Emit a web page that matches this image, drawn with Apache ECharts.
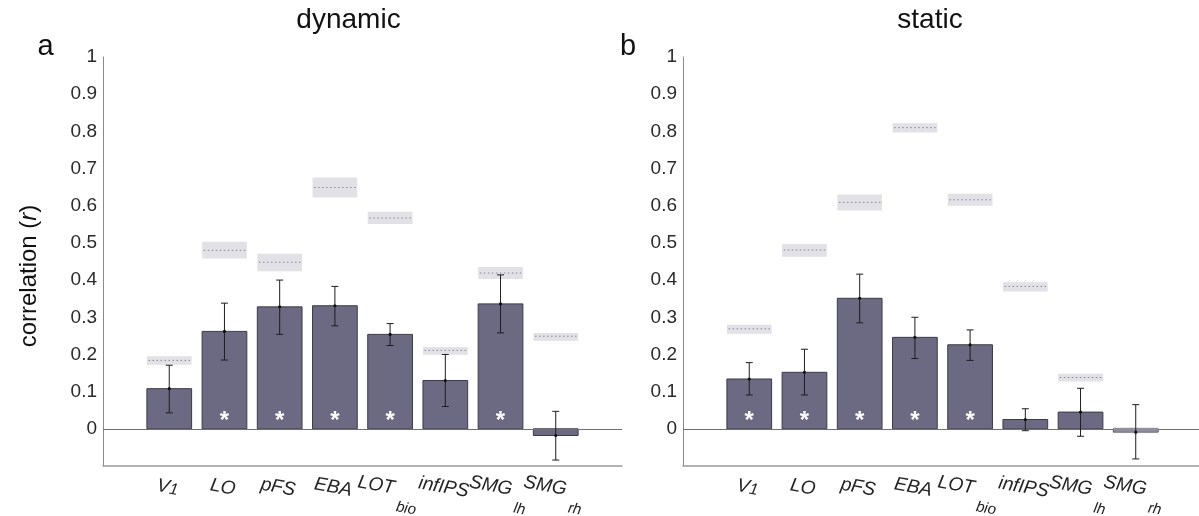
<!DOCTYPE html>
<html>
<head>
<meta charset="utf-8">
<script src="https://cdn.jsdelivr.net/npm/echarts@6/dist/echarts.min.js"></script>
<style>
html,body{margin:0;padding:0;background:#fff;}
#chart{width:1199px;height:516px;}
</style>
</head>
<body>
<div id="chart"></div>
<script>
// ---- data ----
const catMain = ['V', 'LO', 'pFS', 'EBA', 'LOT', 'infIPS', 'SMG', 'SMG'];
const catSub  = ['1', '', '', '', 'bio', '', 'lh', 'rh'];
const xPos = [1, 2, 3, 4, 5, 6, 7, 8];
const xEnds = [0, 9]; // unlabeled end positions (keeps end labels from being auto-hidden)
const yTickValues = [0, 0.1, 0.2, 0.3, 0.4, 0.5, 0.6, 0.7, 0.8, 0.9, 1];
const yTickLabels = ['0', '0.1', '0.2', '0.3', '0.4', '0.5', '0.6', '0.7', '0.8', '0.9', '1'];
const panelTitles = ['dynamic', 'static'];
const panelLetters = ['a', 'b'];

const dynMean   = [0.108, 0.262, 0.328, 0.331, 0.254, 0.130, 0.336, -0.018];
const dynErrLo  = [0.043, 0.185, 0.254, 0.277, 0.224, 0.060, 0.258, -0.084];
const dynErrHi  = [0.171, 0.338, 0.400, 0.383, 0.283, 0.200, 0.414, 0.047];
const dynCeil   = [0.184, 0.480, 0.448, 0.649, 0.567, 0.211, 0.419, 0.249];
const dynCeilLo = [0.172, 0.458, 0.424, 0.622, 0.551, 0.199, 0.403, 0.237];
const dynCeilHi = [0.195, 0.503, 0.471, 0.676, 0.584, 0.220, 0.435, 0.258];
const dynSig    = [0, 1, 1, 1, 1, 0, 1, 0];

const staMean   = [0.134, 0.152, 0.351, 0.246, 0.226, 0.025, 0.045, -0.009];
const staErrLo  = [0.091, 0.091, 0.285, 0.189, 0.184, -0.005, -0.020, -0.081];
const staErrHi  = [0.178, 0.214, 0.416, 0.300, 0.266, 0.054, 0.109, 0.065];
const staCeil   = [0.269, 0.481, 0.609, 0.810, 0.616, 0.383, 0.138, -0.004];
const staCeilLo = [0.256, 0.463, 0.587, 0.797, 0.600, 0.369, 0.127, -0.012];
const staCeilHi = [0.280, 0.497, 0.630, 0.822, 0.632, 0.394, 0.148, 0.004];
const staSig    = [1, 1, 1, 1, 1, 0, 0, 0];

const starLevel = 0.034;

// ---- styling ----
const FONT = "'Liberation Sans', Arial, Helvetica, sans-serif";
const BAR_FILL = '#6c6982';
const BAR_EDGE = '#3c3a4a';
const BAR_W = 0.81;

const panels = [
  {mean: dynMean, lo: dynErrLo, hi: dynErrHi, ceil: dynCeil, cLo: dynCeilLo, cHi: dynCeilHi, sig: dynSig},
  {mean: staMean, lo: staErrLo, hi: staErrHi, ceil: staCeil, cLo: staCeilLo, cHi: staCeilHi, sig: staSig}
];

function xLabel(v) {
  const i = xPos.indexOf(Math.round(v));
  if (i < 0) return '';
  let s = '{m|' + catMain[i] + '}';
  if (catSub[i]) {
    s += (catSub[i] === '1') ? '{n|' + catSub[i] + '}' : '{s|' + catSub[i] + '}';
  }
  return s;
}

const series = [];
panels.forEach((p, gi) => {
  // bars
  series.push({
    type: 'custom', xAxisIndex: gi, yAxisIndex: gi, z: 2,
    data: xPos.map((x, i) => [x, p.mean[i]]),
    renderItem: (params, api) => {
      const x = api.value(0), y = api.value(1);
      const a = api.coord([x - BAR_W / 2, 0]);
      const b = api.coord([x + BAR_W / 2, y]);
      return {
        type: 'rect',
        shape: {x: a[0], y: Math.min(a[1], b[1]), width: b[0] - a[0], height: Math.abs(a[1] - b[1])},
        style: {fill: BAR_FILL, stroke: BAR_EDGE, lineWidth: 1}
      };
    },
    markLine: {
      silent: true, symbol: 'none', label: {show: false},
      lineStyle: {color: '#6f6f6f', width: 1, type: 'solid'},
      data: [{yAxis: 0}], z: 3
    }
  });
  // noise ceilings
  series.push({
    type: 'custom', xAxisIndex: gi, yAxisIndex: gi, z: 4,
    data: xPos.map((x, i) => [x, p.ceil[i], p.cLo[i], p.cHi[i]]),
    renderItem: (params, api) => {
      const x = api.value(0);
      const a = api.coord([x - BAR_W / 2, api.value(3)]);
      const b = api.coord([x + BAR_W / 2, api.value(2)]);
      const c1 = api.coord([x - BAR_W / 2 + 0.03, api.value(1)]);
      const c2 = api.coord([x + BAR_W / 2 - 0.03, api.value(1)]);
      return {
        type: 'group',
        children: [
          {type: 'rect', shape: {x: a[0], y: a[1], width: b[0] - a[0], height: b[1] - a[1]},
           style: {fill: 'rgba(188,188,200,0.45)'}},
          {type: 'line', shape: {x1: c1[0], y1: c1[1], x2: c2[0], y2: c2[1]},
           style: {stroke: '#8585a3', lineWidth: 1, lineDash: [1.5, 2.5]}}
        ]
      };
    }
  });
  // error bars
  series.push({
    type: 'custom', xAxisIndex: gi, yAxisIndex: gi, z: 5,
    data: xPos.map((x, i) => [x, p.mean[i], p.lo[i], p.hi[i]]),
    renderItem: (params, api) => {
      const x = api.value(0);
      const m = api.coord([x, api.value(1)]);
      const l = api.coord([x, api.value(2)]);
      const h = api.coord([x, api.value(3)]);
      const cw = 3.5;
      const st = {stroke: '#1e1e1e', lineWidth: 1};
      return {
        type: 'group',
        children: [
          {type: 'line', shape: {x1: m[0], y1: l[1], x2: m[0], y2: h[1]}, style: st},
          {type: 'line', shape: {x1: m[0] - cw, y1: l[1], x2: m[0] + cw, y2: l[1]}, style: st},
          {type: 'line', shape: {x1: m[0] - cw, y1: h[1], x2: m[0] + cw, y2: h[1]}, style: st},
          {type: 'circle', shape: {cx: m[0], cy: m[1], r: 1.6}, style: {fill: '#111'}}
        ]
      };
    }
  });
  // significance stars
  series.push({
    type: 'custom', xAxisIndex: gi, yAxisIndex: gi, z: 6,
    data: xPos.filter((x, i) => p.sig[i]).map(x => [x, starLevel]),
    renderItem: (params, api) => {
      const pt = api.coord([api.value(0), api.value(1)]);
      return {
        type: 'text', x: pt[0], y: pt[1] + 5,
        style: {text: '*', fill: '#ffffff', font: 'bold 24px ' + FONT, align: 'center', verticalAlign: 'middle'}
      };
    }
  });
});

const option = {
  animation: false,
  backgroundColor: '#ffffff',
  grid: [
    {left: 103, top: 57, width: 519, height: 409, outerBoundsMode: 'none', containLabel: false},
    {left: 683, top: 57, width: 519, height: 409, outerBoundsMode: 'none', containLabel: false}
  ],
  xAxis: [0, 1].map(gi => ({
    gridIndex: gi, type: 'value', min: -0.2, max: 9.2,
    axisLine: {show: true, onZero: false, lineStyle: {color: '#9a9a9a', width: 1.5}},
    axisTick: {show: false}, splitLine: {show: false},
    axisLabel: {
      customValues: [xEnds[0]].concat(xPos, [xEnds[1]]), formatter: xLabel,
      rotate: -10, align: 'center', verticalAlign: 'top', margin: 12,
      hideOverlap: false, showMaxLabel: true, showMinLabel: true,
      rich: {
        m: {fontFamily: FONT, fontStyle: 'italic', fontSize: 19, color: '#222', verticalAlign: 'top'},
        n: {fontFamily: FONT, fontStyle: 'italic', fontSize: 16, color: '#222', verticalAlign: 'top', padding: [3, 0, 0, 0]},
        s: {fontFamily: FONT, fontStyle: 'italic', fontSize: 15, color: '#222', lineHeight: 35, verticalAlign: 'bottom', padding: [0, 0, 0, 5]}
      }
    }
  })),
  yAxis: [0, 1].map(gi => ({
    gridIndex: gi, type: 'value', min: -0.1, max: 1, interval: 0.1,
    axisLine: {show: true, onZero: false, lineStyle: {color: '#8a8a8a', width: 1}},
    axisTick: {show: false}, splitLine: {show: false},
    axisLabel: {
      customValues: yTickValues,
      formatter: v => { const i = yTickValues.findIndex(t => Math.abs(t - v) < 1e-6); return i >= 0 ? yTickLabels[i] : ''; },
      fontFamily: FONT, fontSize: 19, color: '#2a2a2a', margin: 6
    }
  })),
  graphic: [
    {type: 'text', x: 348.5, y: 20, style: {text: panelTitles[0], font: '28px ' + FONT, fill: '#111', align: 'center', verticalAlign: 'middle'}},
    {type: 'text', x: 930, y: 20, style: {text: panelTitles[1], font: '28px ' + FONT, fill: '#111', align: 'center', verticalAlign: 'middle'}},
    {type: 'text', x: 45.5, y: 47, style: {text: panelLetters[0], font: '29px ' + FONT, fill: '#111', align: 'center', verticalAlign: 'middle'}},
    {type: 'text', x: 628, y: 47, style: {text: panelLetters[1], font: '29px ' + FONT, fill: '#111', align: 'center', verticalAlign: 'middle'}},
    {type: 'text', x: 29, y: 276, rotation: Math.PI / 2,
     style: {text: '{n|correlation (}{i|r}{n|)}', align: 'center', verticalAlign: 'middle',
       rich: {
         n: {font: '24px ' + FONT, fill: '#111'},
         i: {font: 'italic 24px ' + FONT, fill: '#111'}
       }}}
  ],
  series: series
};

const chart = echarts.init(document.getElementById('chart'), null, {renderer: 'canvas'});
chart.setOption(option);
</script>
</body>
</html>
